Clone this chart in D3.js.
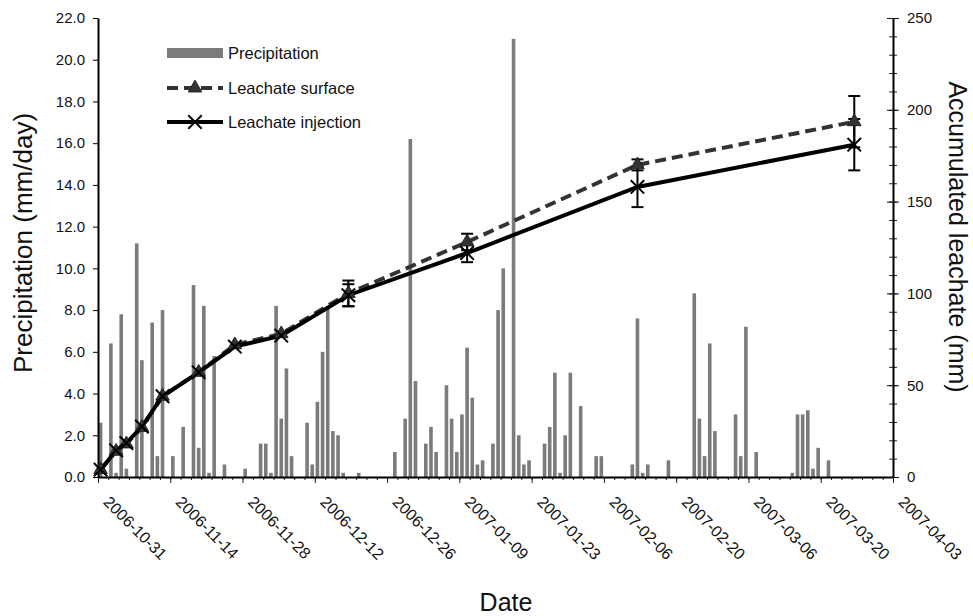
<!DOCTYPE html>
<html>
<head>
<meta charset="utf-8">
<script src="https://cdn.jsdelivr.net/npm/d3@7"></script>
<style>
  body { margin: 0; background: #fff; }
  svg { display: block; font-family: "Liberation Sans", Arial, sans-serif; }
</style>
</head>
<body>
<svg id="chart" width="973" height="616"></svg>
<script>
// daily precipitation (mm/day)
const precipDates = [
  "2006-10-31","2006-11-02","2006-11-03","2006-11-04","2006-11-05","2006-11-07","2006-11-08",
  "2006-11-10","2006-11-11","2006-11-12","2006-11-14","2006-11-16","2006-11-18","2006-11-19",
  "2006-11-20","2006-11-21","2006-11-22","2006-11-24","2006-11-28","2006-12-01","2006-12-02",
  "2006-12-03","2006-12-04","2006-12-05","2006-12-06","2006-12-07","2006-12-10","2006-12-11",
  "2006-12-12","2006-12-13","2006-12-14","2006-12-15","2006-12-16","2006-12-17","2006-12-20",
  "2006-12-27","2006-12-29","2006-12-30","2006-12-31","2007-01-02","2007-01-03","2007-01-04",
  "2007-01-06","2007-01-07","2007-01-08","2007-01-09","2007-01-10","2007-01-11","2007-01-12",
  "2007-01-13","2007-01-15","2007-01-16","2007-01-17","2007-01-19","2007-01-20","2007-01-21",
  "2007-01-22","2007-01-25","2007-01-26","2007-01-27","2007-01-28","2007-01-29","2007-01-30",
  "2007-02-01","2007-02-04","2007-02-05","2007-02-11","2007-02-12","2007-02-13","2007-02-14",
  "2007-02-18","2007-02-23","2007-02-24","2007-02-25","2007-02-26","2007-02-27","2007-03-03",
  "2007-03-04","2007-03-05","2007-03-07","2007-03-14","2007-03-15","2007-03-16","2007-03-17",
  "2007-03-18","2007-03-19","2007-03-21"
];
const precipValues = [
  2.6, 6.4, 0.2, 7.8, 0.4, 11.2, 5.6,
  7.4, 1.0, 8.0, 1.0, 2.4, 9.2, 1.4,
  8.2, 0.2, 5.8, 0.6, 0.4, 1.6, 1.6,
  0.2, 8.2, 2.8, 5.2, 1.0, 2.6, 0.6,
  3.6, 6.0, 8.2, 2.2, 2.0, 0.2, 0.2,
  1.2, 2.8, 16.2, 4.6, 1.6, 2.4, 1.2,
  4.4, 2.8, 1.2, 3.0, 6.2, 3.8, 0.6,
  0.8, 1.6, 8.0, 10.0, 21.0, 2.0, 0.6,
  0.8, 1.6, 2.4, 5.0, 0.2, 2.0, 5.0,
  3.4, 1.0, 1.0, 0.6, 7.6, 0.2, 0.6,
  0.8, 8.8, 2.8, 1.0, 6.4, 2.2, 3.0,
  1.0, 7.2, 1.2, 0.2, 3.0, 3.0, 3.2,
  0.4, 1.4, 0.8
];

// accumulated leachate (mm)
const leachDates = [
  "2006-10-31","2006-11-03","2006-11-05","2006-11-08","2006-11-12","2006-11-19",
  "2006-11-26","2006-12-05","2006-12-18","2007-01-10","2007-02-12","2007-03-26"
];
const surfaceValues   = [4, 14, 18, 27, 44, 57, 72, 78, 100, 128, 170, 193.5];
const surfaceErr      = [0, 0, 0, 0, 0, 0, 0, 0, 7, 4.5, 3, 14];
const injectionValues = [4, 14.5, 18.5, 27.5, 44, 57, 71, 77, 99, 122, 158, 181];
const injectionErr    = [0, 0, 0, 0, 0, 0, 0, 0, 6, 5, 11, 14];

const xTickLabels = [
  "2006-10-31","2006-11-14","2006-11-28","2006-12-12","2006-12-26","2007-01-09",
  "2007-01-23","2007-02-06","2007-02-20","2007-03-06","2007-03-20","2007-04-03"
];
const leftTicks = [0, 2, 4, 6, 8, 10, 12, 14, 16, 18, 20, 22];
const rightTicks = [0, 50, 100, 150, 200, 250];

const parse = d3.utcParse("%Y-%m-%d");
const svg = d3.select("#chart");

const plotLeft = 98, plotRight = 893, plotTop = 18, plotBottom = 477;

const x = d3.scaleUtc()
  .domain([parse(xTickLabels[0]), parse(xTickLabels[xTickLabels.length - 1])])
  .range([plotLeft, plotRight]);
const yP = d3.scaleLinear().domain([0, 22]).range([plotBottom, plotTop]);
const yL = d3.scaleLinear().domain([0, 250]).range([plotBottom, plotTop]);

const dayW = x(d3.utcDay.offset(x.domain()[0], 1)) - x(x.domain()[0]);
const cx = d => x(d) + dayW / 2;
const barW = dayW * 0.7;

// precipitation bars
const precip = precipDates.map((d, i) => ({ date: parse(d), value: precipValues[i] }));
svg.append("g")
  .selectAll("rect")
  .data(precip)
  .join("rect")
  .attr("x", d => cx(d.date) - barW / 2)
  .attr("y", d => yP(d.value))
  .attr("width", barW)
  .attr("height", d => yP(0) - yP(d.value))
  .attr("fill", "#7b7b7b");

// axes
const majorDates = xTickLabels.map(parse);
const minorDates = d3.utcDay.range(x.domain()[0], d3.utcDay.offset(x.domain()[1], 1), 1)
  .filter((d, i) => i % 2 === 0);

const fmt = d3.utcFormat("%Y-%m-%d");

svg.append("g")
  .attr("transform", `translate(0,${plotBottom})`)
  .call(d3.axisBottom(x).tickValues(minorDates).tickSize(3).tickFormat(""))
  .call(g => g.select(".domain").remove())
  .call(g => g.selectAll("line").attr("stroke", "#222"));

const xAxis = svg.append("g")
  .attr("transform", `translate(0,${plotBottom})`)
  .call(d3.axisBottom(x).tickValues(majorDates).tickSize(6).tickSizeOuter(0).tickFormat(fmt));
xAxis.select(".domain").attr("stroke", "#000").attr("stroke-width", 2);
xAxis.selectAll("line").attr("stroke", "#222");
xAxis.selectAll("text")
  .attr("font-size", 16)
  .attr("fill", "#111")
  .attr("text-anchor", "start")
  .attr("y", 0).attr("dy", 0)
  .attr("transform", "translate(4,26) rotate(45)");

const yAxisL = svg.append("g")
  .attr("transform", `translate(${plotLeft},0)`)
  .call(d3.axisLeft(yP).tickValues(leftTicks).tickSize(5).tickSizeOuter(0).tickPadding(8)
    .tickFormat(d3.format(".1f")));
yAxisL.select(".domain").attr("stroke", "#000").attr("stroke-width", 2);
yAxisL.selectAll("text").attr("font-size", 15).attr("fill", "#111");

const rightMinor = d3.range(0, 251, 10);
svg.append("g")
  .attr("transform", `translate(${plotRight},0)`)
  .call(d3.axisRight(yL).tickValues(rightMinor).tickSize(4).tickFormat(""))
  .call(g => g.select(".domain").remove())
  .call(g => g.selectAll("line").attr("stroke", "#222").attr("x1", -4));

const yAxisR = svg.append("g")
  .attr("transform", `translate(${plotRight},0)`)
  .call(d3.axisRight(yL).tickValues(rightTicks).tickSize(6).tickSizeOuter(0).tickPadding(8));
yAxisR.select(".domain").attr("stroke", "#000").attr("stroke-width", 2);
yAxisR.selectAll("line").attr("stroke", "#111").attr("x1", -6);
yAxisR.selectAll("text").attr("font-size", 15).attr("fill", "#111");

// leachate series
const surface = leachDates.map((d, i) => ({ date: parse(d), value: surfaceValues[i], err: surfaceErr[i] }));
const injection = leachDates.map((d, i) => ({ date: parse(d), value: injectionValues[i], err: injectionErr[i] }));

const line = d3.line().x(d => cx(d.date)).y(d => yL(d.value));

svg.append("path")
  .datum(surface)
  .attr("d", line)
  .attr("fill", "none")
  .attr("stroke", "#333")
  .attr("stroke-width", 4)
  .attr("stroke-dasharray", "11,6");

svg.append("path")
  .datum(injection)
  .attr("d", line)
  .attr("fill", "none")
  .attr("stroke", "#000")
  .attr("stroke-width", 4);

// error bars
function errorBars(data) {
  const g = svg.append("g").attr("stroke", "#000").attr("stroke-width", 2);
  const pts = data.filter(d => d.err > 0);
  g.selectAll(".v").data(pts).join("line")
    .attr("x1", d => cx(d.date)).attr("x2", d => cx(d.date))
    .attr("y1", d => yL(d.value + d.err)).attr("y2", d => yL(d.value - d.err));
  g.selectAll(".t").data(pts).join("line")
    .attr("x1", d => cx(d.date) - 6).attr("x2", d => cx(d.date) + 6)
    .attr("y1", d => yL(d.value + d.err)).attr("y2", d => yL(d.value + d.err));
  g.selectAll(".b").data(pts).join("line")
    .attr("x1", d => cx(d.date) - 6).attr("x2", d => cx(d.date) + 6)
    .attr("y1", d => yL(d.value - d.err)).attr("y2", d => yL(d.value - d.err));
}
errorBars(surface);
errorBars(injection);

const triangle = d3.symbol().type(d3.symbolTriangle).size(80);
const cross = d3.symbol().type(d3.symbolX).size(120);

svg.append("g")
  .selectAll("path")
  .data(surface)
  .join("path")
  .attr("d", triangle)
  .attr("transform", d => `translate(${cx(d.date)},${yL(d.value)})`)
  .attr("fill", "#333")
  .attr("stroke", "#222")
  .attr("stroke-width", 1);

svg.append("g")
  .selectAll("path")
  .data(injection)
  .join("path")
  .attr("d", cross)
  .attr("transform", d => `translate(${cx(d.date)},${yL(d.value)})`)
  .attr("fill", "none")
  .attr("stroke", "#000")
  .attr("stroke-width", 2);

// legend
const legend = svg.append("g").attr("font-size", 16.5).attr("fill", "#111");
legend.append("rect").attr("x", 167).attr("y", 48).attr("width", 56).attr("height", 10).attr("fill", "#7b7b7b");
legend.append("text").attr("x", 228).attr("y", 59).text("Precipitation");

legend.append("line").attr("x1", 167).attr("x2", 223).attr("y1", 88).attr("y2", 88)
  .attr("stroke", "#333").attr("stroke-width", 4).attr("stroke-dasharray", "11,6");
legend.append("path").attr("d", triangle).attr("transform", "translate(195,88)")
  .attr("fill", "#333").attr("stroke", "#222");
legend.append("text").attr("x", 228).attr("y", 94).text("Leachate surface");

legend.append("line").attr("x1", 167).attr("x2", 223).attr("y1", 122).attr("y2", 122)
  .attr("stroke", "#000").attr("stroke-width", 4);
legend.append("path").attr("d", cross).attr("transform", "translate(195,122)")
  .attr("fill", "none").attr("stroke", "#000").attr("stroke-width", 2);
legend.append("text").attr("x", 228).attr("y", 128).text("Leachate injection");

// axis titles
svg.append("text")
  .attr("transform", "translate(32,243) rotate(-90)")
  .attr("text-anchor", "middle")
  .attr("font-size", 26)
  .attr("fill", "#111")
  .text("Precipitation (mm/day)");

svg.append("text")
  .attr("transform", "translate(949,237) rotate(90)")
  .attr("text-anchor", "middle")
  .attr("font-size", 25)
  .attr("fill", "#111")
  .text("Accumulated leachate (mm)");

svg.append("text")
  .attr("x", 506)
  .attr("y", 611)
  .attr("text-anchor", "middle")
  .attr("font-size", 25)
  .attr("fill", "#111")
  .text("Date");
</script>
</body>
</html>
